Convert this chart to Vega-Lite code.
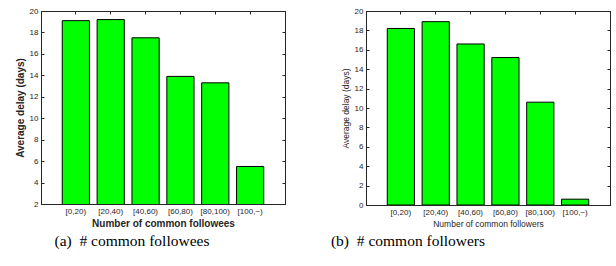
{
  "$schema": "https://vega.github.io/schema/vega-lite/v6.json",
  "padding": {"left": 14, "top": 6, "right": 0, "bottom": 0},
  "spacing": 44,
  "datasets": {
    "followees": [
      {"bin": "[0,20)", "delay": 19.1},
      {"bin": "[20,40)", "delay": 19.2},
      {"bin": "[40,60)", "delay": 17.5},
      {"bin": "[60,80)", "delay": 13.9},
      {"bin": "[80,100)", "delay": 13.3},
      {"bin": "[100,~)", "delay": 5.5}
    ],
    "followers": [
      {"bin": "[0,20)", "delay": 18.2},
      {"bin": "[20,40)", "delay": 18.9},
      {"bin": "[40,60)", "delay": 16.6},
      {"bin": "[60,80)", "delay": 15.2},
      {"bin": "[80,100)", "delay": 10.6},
      {"bin": "[100,~)", "delay": 0.6}
    ]
  },
  "config": {
    "view": {"stroke": "black", "strokeWidth": 1},
    "axis": {
      "domainColor": "#262626",
      "tickColor": "#262626",
      "tickSize": -3,
      "labelPadding": 6,
      "labelColor": "#262626",
      "labelFont": "Liberation Sans",
      "labelFontSize": 8,
      "titleFont": "Liberation Sans",
      "titleColor": "#262626",
      "grid": false
    },
    "title": {"font": "Liberation Serif", "fontSize": 15.5, "fontWeight": "normal", "color": "black"}
  },
  "hconcat": [
    {
      "width": 244,
      "height": 193,
      "data": {"name": "followees"},
      "title": {"text": "(a)\u00a0\u00a0# common followees", "orient": "bottom", "anchor": "middle", "dx": -31, "offset": 6},
      "resolve": {"axis": {"x": "independent", "y": "independent"}},
      "layer": [
        {
          "mark": {"type": "bar", "color": "#00ff00", "stroke": "black", "strokeWidth": 1, "clip": true},
          "encoding": {
            "x": {"field": "bin", "type": "nominal", "sort": null,
                  "scale": {"paddingInner": 0.22, "paddingOuter": 0.61},
                  "axis": {"title": "Number of common followees", "labelAngle": 0, "titleFontSize": 10, "titleFontWeight": "bold", "titlePadding": 3}},
            "y": {"field": "delay", "type": "quantitative",
                  "scale": {"domain": [2, 20], "nice": false, "zero": false},
                  "axis": {"title": "Average delay (days)", "values": [2,4,6,8,10,12,14,16,18,20], "titleFontSize": 10, "titleFontWeight": "bold", "titlePadding": 4}}
          }
        },
        {
          "mark": {"type": "bar", "opacity": 0},
          "encoding": {
            "x": {"field": "bin", "type": "nominal", "sort": null,
                  "axis": {"orient": "top", "labels": false, "title": null}},
            "y": {"field": "delay", "type": "quantitative",
                  "axis": {"orient": "right", "labels": false, "title": null, "values": [2,4,6,8,10,12,14,16,18,20]}}
          }
        }
      ]
    },
    {
      "width": 244,
      "height": 194,
      "data": {"name": "followers"},
      "title": {"text": "(b)\u00a0\u00a0# common followers", "orient": "bottom", "anchor": "middle", "dx": -80, "offset": 6},
      "resolve": {"axis": {"x": "independent", "y": "independent"}},
      "layer": [
        {
          "mark": {"type": "bar", "color": "#00ff00", "stroke": "black", "strokeWidth": 1, "clip": true},
          "encoding": {
            "x": {"field": "bin", "type": "nominal", "sort": null,
                  "scale": {"paddingInner": 0.22, "paddingOuter": 0.61},
                  "axis": {"title": "Number of common followers", "labelAngle": 0, "titleFontSize": 8.5, "titleFontWeight": "normal", "titlePadding": 3}},
            "y": {"field": "delay", "type": "quantitative",
                  "scale": {"domain": [0, 20], "nice": false},
                  "axis": {"title": "Average delay (days)", "values": [0,2,4,6,8,10,12,14,16,18,20], "titleFontSize": 8.5, "titleFontWeight": "normal", "titlePadding": 4}}
          }
        },
        {
          "mark": {"type": "bar", "opacity": 0},
          "encoding": {
            "x": {"field": "bin", "type": "nominal", "sort": null,
                  "axis": {"orient": "top", "labels": false, "title": null}},
            "y": {"field": "delay", "type": "quantitative",
                  "axis": {"orient": "right", "labels": false, "title": null, "values": [0,2,4,6,8,10,12,14,16,18,20]}}
          }
        }
      ]
    }
  ]
}
